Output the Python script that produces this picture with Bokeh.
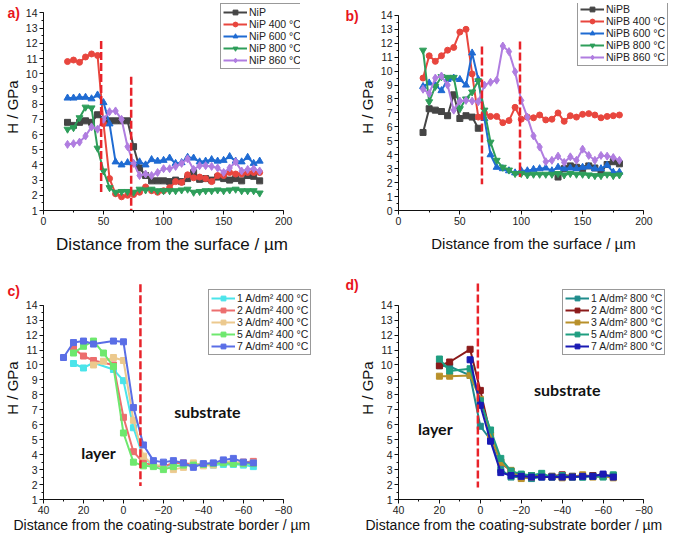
from bokeh.plotting import figure
from bokeh.models import Range1d, Legend, LegendItem, Label, Title, SingleIntervalTicker
from bokeh.layouts import row, column
from bokeh.embed import file_html
from bokeh.resources import INLINE

NAN = float("nan")

# --- a) NiP coatings, depth profiles
depth_ab = [20, 25, 30, 35, 40, 45, 50, 55, 60, 65, 70, 75, 80, 85, 90, 95, 100,
            105, 110, 115, 120, 125, 130, 135, 140, 145, 150, 155, 160, 165, 170, 175, 180]
nip = [6.8, 6.6, 6.8, 6.9, 6.8, 7.3, 7.0, 6.9, 6.9, 6.9, 6.9, 5.2, 3.8, 3.3, 2.95, 2.95, 2.95,
       2.9, 3.0, 2.9, 3.1, 3.5, 3.05, 3.1, 3.0, 3.2, 3.1, 3.0, 3.1, 2.95, 3.3, 3.25, 2.95]
nip_400 = [10.8, 10.9, 10.75, 11.1, 11.3, 11.2, 6.7, 3.1, 2.1, 1.9, 2.0, 2.05, 2.2, 2.55, 2.3, 2.2, 2.3,
           2.5, 2.9, 2.85, 3.35, 3.15, 3.2, 3.1, 2.9, 3.3, 3.3, 3.5, 3.4, 3.4, 3.5, 3.5, 3.5]
nip_600 = [8.4, 8.4, 8.45, 8.45, 8.35, 8.6, 8.1, 6.7, 4.2, 4.0, 4.15, 4.1, 4.2, 4.0, 4.35, 4.25, 4.3,
           4.45, 4.1, 4.15, 4.5, 4.45, 4.2, 4.25, 4.35, 4.25, 4.3, 4.55, 4.25, 4.2, 4.5, 4.1, 4.25]
nip_800 = [6.35, 6.45, 7.1, 7.8, 7.75, 5.1, 3.6, 2.5, 2.2, 2.25, 2.25, 2.2, 2.4, 2.35, 2.4, 2.3, 2.3,
           2.3, 2.3, 2.35, 2.4, 2.2, 2.25, 2.3, 2.3, 2.35, 2.3, 2.35, 2.4, 2.3, 2.3, 2.3, 2.15]
nip_860 = [5.35, 5.4, 5.5, 5.9, 6.5, 6.35, 7.0, 7.5, 7.55, 7.0, 5.2, 4.1, 3.3, 3.4, 3.3, 3.5, 3.75,
           3.75, 3.9, 4.1, 4.4, 3.7, 3.95, 3.95, 3.9, 3.8, 3.5, 3.8, 4.2, 3.6, 3.7, 3.75, 3.6]
borders_a = [48, 73]
borders_a_top = [12.15, 9.8]
borders_a_bottom = [2.2, 0.8]

# --- b) NiPB coatings
nipb = [5.6, 7.3, 7.2, 7.1, 6.8, 8.3, 6.6, 6.8, 6.7, 5.9, NAN, NAN, NAN, NAN, NAN, NAN, NAN,
        NAN, NAN, NAN, NAN, NAN, 2.4, 3.0, 3.2, 3.1, 3.0, 3.2, 3.05, 2.8, 3.3, 3.5, 3.35]
nipb_400 = [9.5, 11.1, 10.7, 11.1, 11.5, 11.7, 12.8, 13.0, 9.8, 6.7, 7.0, 6.75, 6.75, 6.3, 6.45, 7.4, 6.55,
            6.7, 6.65, 6.85, 6.5, 6.55, 7.0, 6.4, 6.8, 6.7, 6.9, 6.95, 6.85, 6.65, 6.75, 6.8, 6.85]
nipb_600 = [8.9, 9.15, 9.0, 8.6, 9.4, 9.5, 9.4, 9.0, 11.3, 9.4, 6.6, 4.0, 3.1, 3.0, 2.85, 2.7, 2.85,
            2.85, 2.95, 3.0, 3.05, 2.85, 3.1, 3.0, 3.05, 3.0, 3.1, 3.15, 3.0, 3.0, 3.25, 2.75, 2.75]
nipb_800 = [11.5, 7.8, 8.9, 9.6, 9.55, 9.55, 7.3, 8.0, 8.5, 9.3, 7.2, 4.9, 3.6, 3.1, 2.9, 2.65, 2.65,
            2.55, 2.6, 2.6, 2.6, 2.6, 2.65, 2.55, 2.65, 2.6, 2.6, 2.55, 2.5, 2.5, 2.6, 2.5, 2.55]
nipb_860 = [8.7, 8.4, 9.5, 9.65, 9.0, 7.2, 7.85, 7.9, 7.85, 7.8, 9.0, 9.2, 9.35, 11.8, 11.4, 9.95, 7.9,
            6.7, 5.35, 4.55, 3.5, 3.6, 3.9, 3.45, 3.85, 3.6, 4.4, 3.95, 3.6, 3.95, 3.9, 3.8, 3.6]
borders_b = [68, 99]
borders_b_top = [11.77, 12.12]
borders_b_bottom = [1.88, 2.4]

# --- c) 400 °C, current density series
tail = [-5, -10, -15, -20, -25, -30, -35, -40, -45, -50, -55, -60, -65]
c_x_1 = [25, 20, 15, 5, 0] + tail
c_h_1 = [10.1, 9.8, 10.15, 9.7, 8.95, 5.8, 3.8, 3.3, 3.2, 3.3, 3.25, 3.3, 3.35, 3.3, 3.35, 3.35, 3.3, 3.2]
c_x_2 = [25, 20, 15, 5, 0] + tail
c_h_2 = [11.1, 10.6, 10.3, 10.0, 6.5, 4.2, 3.45, 3.3, 3.2, 3.45, 3.45, 3.35, 3.35, 3.4, 3.55, 3.45, 3.5, 3.55]
c_x_3 = [15, 10, 5, 0] + tail
c_h_3 = [10.0, 10.25, 10.5, 10.3, 6.3, 3.9, 3.3, 3.25, 3.0, 3.15, 3.45, 3.25, 3.3, 3.55, 3.5, 3.4, 3.45]
c_x_5 = [25, 20, 15, 10, 5, 0] + tail
c_h_5 = [10.8, 11.25, 11.6, 10.8, 9.9, 5.45, 3.5, 3.25, 3.2, 3.0, 3.2, 3.3, 3.3, 3.35, 3.4, 3.45, 3.4, 3.4, 3.4]
c_x_7 = [30, 25, 20, 15, 5, 0] + tail
c_h_7 = [10.5, 11.5, 11.6, 11.4, 11.6, 11.55, 7.15, 4.65, 3.6, 3.5, 3.6, 3.45, 3.15, 3.4, 3.45, 3.65, 3.75, 3.5, 3.45]
border_c = [-8.5]
border_c_top = [15.4]
border_c_bottom = [1.9]

# --- d) 800 °C, current density series
d_x_1 = [20, 15, 5, 0] + tail
d_h_1 = [9.95, 9.9, 9.3, 5.9, 5.0, 3.0, 2.5, 2.5, 2.4, 2.5, 2.55, 2.5, 2.55, 2.5, 2.6, 2.55, 2.6]
d_x_2 = [20, 15, 5, 0] + tail
d_h_2 = [9.95, 10.2, 11.05, 8.3, 5.3, 3.5, 2.9, 2.65, 2.6, 2.55, 2.55, 2.65, 2.55, 2.55, 2.6, 2.6, 2.55]
d_x_3 = [20, 15, 5, 0] + tail
d_h_3 = [9.25, 9.25, 9.3, 7.7, 5.3, 3.5, 2.95, 2.4, 2.5, 2.55, 2.5, 2.45, 2.5, 2.65, 2.5, 2.55, 2.45]
d_x_5 = [20, 15, 5, 0] + tail
d_h_5 = [10.4, 9.6, 9.75, 7.6, 5.65, 3.75, 2.9, 2.7, 2.6, 2.75, 2.5, 2.6, 2.5, 2.5, 2.55, 2.5, 2.65]
d_x_7 = [5, 0] + tail
d_h_7 = [10.35, 7.3, 4.9, 2.8, 2.6, 2.55, 2.5, 2.5, 2.5, 2.5, 2.5, 2.55, 2.55, 2.7, 2.5]
border_d = [1.2]
border_d_top = [15.45]
border_d_bottom = [1.8]

FONT = "Liberation Sans"
DASH_RED = "#e8232a"
BORDER_LABEL = "Distance from the coating-substrate border / µm"


def make_panel(x_range, y_range, width, height, left, right, top, bottom,
               x_interval, x_label, x_bounds, y_bounds, x_label_size):
    p = figure(width=width, height=height, x_range=x_range, y_range=y_range,
               output_backend="svg", toolbar_location=None,
               min_border_left=left, min_border_right=right,
               min_border_top=top, min_border_bottom=bottom)
    p.outline_line_color = None
    p.grid.visible = False
    p.xaxis.ticker = SingleIntervalTicker(interval=x_interval, num_minor_ticks=2)
    p.yaxis.ticker = SingleIntervalTicker(interval=1, num_minor_ticks=2)
    p.xaxis.bounds = x_bounds
    p.yaxis.bounds = y_bounds
    for ax in (p.xaxis, p.yaxis):
        ax.axis_line_color = "#111111"
        ax.major_tick_line_color = "#111111"
        ax.minor_tick_line_color = "#111111"
        ax.major_tick_in = 0
        ax.major_tick_out = 4
        ax.minor_tick_in = 0
        ax.minor_tick_out = 2
        ax.major_label_text_font = FONT
        ax.major_label_text_font_size = "10.5px"
        ax.major_label_text_color = "#222222"
        ax.major_label_standoff = 2
        ax.axis_label_text_font = FONT
        ax.axis_label_text_font_style = "normal"
        ax.axis_label_text_color = "#111111"
        ax.axis_label_standoff = 2
    if x_label:
        p.xaxis.axis_label = x_label
        p.xaxis.axis_label_text_font_size = x_label_size
        p.xaxis.axis_label_standoff = 7
    p.yaxis.axis_label = "H / GPa"
    p.yaxis.axis_label_text_font_size = "15px"
    return p


def add_series(p, xs, ys, color, marker, size, label, items):
    r1 = p.line(xs, ys, line_color=color, line_width=2)
    r2 = p.scatter(xs, ys, marker=marker, size=size, fill_color=color, line_color=color)
    items.append(LegendItem(label=label, renderers=[r1, r2]))


def add_legend(p, items, loc):
    leg = Legend(items=items, location=loc)
    leg.border_line_color = "#333333"
    leg.border_line_width = 1
    leg.background_fill_color = "white"
    leg.background_fill_alpha = 1
    leg.label_text_font = FONT
    leg.label_text_font_size = "10.5px"
    leg.label_text_color = "#222222"
    leg.glyph_width = 24
    leg.glyph_height = 12
    leg.label_height = 12
    leg.label_standoff = 2
    leg.spacing = 0
    leg.padding = 2
    leg.margin = 0
    p.add_layout(leg)


def panel_tag(p, offset, standoff, txt):
    # a negative standoff keeps the title panel thin and pushes the text down
    p.add_layout(Title(text=txt, align="left", offset=offset, standoff=standoff,
                       vertical_align="bottom", text_color="#e8141c", text_font=FONT,
                       text_font_style="bold", text_font_size="14px"), "above")


def bottom_label(p, offset, txt):
    # x label as a left-aligned title below the axis, so it starts where the reference's does
    p.add_layout(Title(text=txt, align="left", offset=offset, standoff=0,
                       vertical_align="top", text_color="#111111", text_font=FONT,
                       text_font_style="normal", text_font_size="14px"), "below")


def region_text(p, x, y, txt):
    p.add_layout(Label(x=x, y=y, text=txt, text_color="#111111", text_font="Lato",
                       text_font_style="bold", text_font_size="16px",
                       text_baseline="middle", text_align="center"))


# a)
pa = make_panel(Range1d(0, 214), Range1d(1, 14.62), 334, 270, 36, 34, 3, 60,
                50, "Distance from the surface / µm", (0, 200), (1, 14), "17px")
items = []
add_series(pa, depth_ab, nip, "#454545", "square", 6, "NiP", items)
add_series(pa, depth_ab, nip_400, "#e8463e", "circle", 6, "NiP 400 °C", items)
add_series(pa, depth_ab, nip_600, "#1f6bd2", "triangle", 7, "NiP 600 °C", items)
add_series(pa, depth_ab, nip_800, "#2e9e5a", "inverted_triangle", 7, "NiP 800 °C", items)
add_series(pa, depth_ab, nip_860, "#b07de0", "diamond", 8, "NiP 860 °C", items)
pa.segment(borders_a, borders_a_top, borders_a, borders_a_bottom,
           line_color=DASH_RED, line_width=2.5, line_dash="8 3")
add_legend(pa, items, (177, 141))
panel_tag(pa, -36, -34, "a)")

# b)
pb = make_panel(Range1d(0, 220), Range1d(0, 14.85), 334, 270, 64, 0, 0, 60,
                50, "Distance from the surface / µm", (0, 200), (0, 14), "15px")
items = []
add_series(pb, depth_ab, nipb, "#454545", "square", 6, "NiPB", items)
add_series(pb, depth_ab, nipb_400, "#e8463e", "circle", 6, "NiPB 400 °C", items)
add_series(pb, depth_ab, nipb_600, "#1f6bd2", "triangle", 7, "NiPB 600 °C", items)
add_series(pb, depth_ab, nipb_800, "#2e9e5a", "inverted_triangle", 7, "NiPB 800 °C", items)
add_series(pb, depth_ab, nipb_860, "#b07de0", "diamond", 8, "NiPB 860 °C", items)
pb.segment(borders_b, borders_b_top, borders_b, borders_b_bottom,
           line_color=DASH_RED, line_width=2.5, line_dash="8 3")
add_legend(pb, items, (179, 144))
panel_tag(pb, -53, -40, "b)")

# c)
pc = make_panel(Range1d(40, -95.6), Range1d(1, 15.92), 334, 265, 36, 20, 6, 36,
                20, None, (-80, 40), (1, 14), "14px")
items = []
add_series(pc, c_x_1, c_h_1, "#4be4ea", "square", 6, "1 A/dm² 400 °C", items)
add_series(pc, c_x_2, c_h_2, "#ec6e6e", "square", 6, "2 A/dm² 400 °C", items)
add_series(pc, c_x_3, c_h_3, "#ecc98e", "square", 6, "3 A/dm² 400 °C", items)
add_series(pc, c_x_5, c_h_5, "#6ee86e", "square", 6, "5 A/dm² 400 °C", items)
add_series(pc, c_x_7, c_h_7, "#5a6ee6", "square", 6, "7 A/dm² 400 °C", items)
pc.segment(border_c, border_c_top, border_c, border_c_bottom,
           line_color=DASH_RED, line_width=2.5, line_dash="8 3")
add_legend(pc, items, (165, 144))
region_text(pc, -42, 6.9, "substrate")
region_text(pc, 12.5, 4.15, "layer")
panel_tag(pc, -36, -44, "c)")
bottom_label(pc, -30, BORDER_LABEL)

# d)
pd_ = make_panel(Range1d(40, -91), Range1d(1, 15.92), 334, 265, 64, 2, 6, 36,
                 20, None, (-80, 40), (1, 14), "14px")
items = []
add_series(pd_, d_x_1, d_h_1, "#1f8c8c", "square", 6, "1 A/dm² 800 °C", items)
add_series(pd_, d_x_2, d_h_2, "#8b1a1a", "square", 6, "2 A/dm² 800 °C", items)
add_series(pd_, d_x_3, d_h_3, "#b8902a", "square", 6, "3 A/dm² 800 °C", items)
add_series(pd_, d_x_5, d_h_5, "#1f9e80", "square", 6, "5 A/dm² 800 °C", items)
add_series(pd_, d_x_7, d_h_7, "#1a1ab4", "square", 6, "7 A/dm² 800 °C", items)
pd_.segment(border_d, border_d_top, border_d, border_d_bottom,
            line_color=DASH_RED, line_width=2.5, line_dash="8 3")
add_legend(pd_, items, (164, 144))
region_text(pd_, -42.5, 8.35, "substrate")
region_text(pd_, 22, 5.75, "layer")
panel_tag(pd_, -53, -32, "d)")
bottom_label(pd_, -33, BORDER_LABEL)

layout = column(row(pa, pb), row(pc, pd_))
open("out.html", "w").write(file_html(layout, INLINE))
